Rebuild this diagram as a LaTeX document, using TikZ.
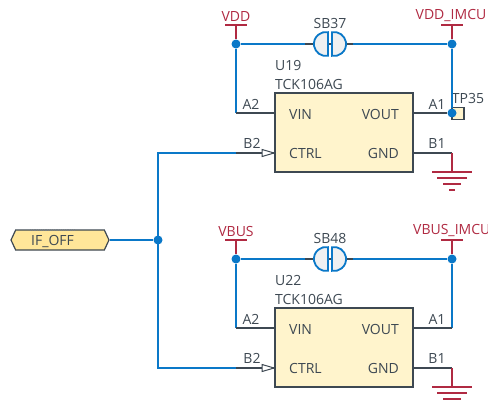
\documentclass[tikz,border=0pt]{standalone}
\usepackage{fontspec}
\setmainfont{Open Sans}
\usetikzlibrary{shapes.symbols}
\definecolor{netblue}{HTML}{0A78C8}
\definecolor{pindark}{HTML}{3D4852}
\definecolor{pwrred}{HTML}{B02A42}
\definecolor{icfill}{HTML}{FFF4CC}
\definecolor{portfill}{HTML}{FFE699}
\definecolor{capfill}{HTML}{EEF0F2}

\tikzset{
  wire/.style={draw=netblue,line width=1.8pt},
  pin/.style={draw=pindark,line width=1.8pt},
  pwr/.style={draw=pwrred,line width=1.8pt},
  dot/.style={circle,fill=netblue,inner sep=0pt,minimum size=9pt},
  ic/.style={rectangle,draw=pindark,line width=1.8pt,fill=icfill,inner sep=0pt,minimum width=138pt,minimum height=79pt},
  lbl/.style={inner sep=0pt,text=pindark,font=\fontsize{14}{16}\selectfont},
  pwrlbl/.style={inner sep=0pt,text=pwrred,font=\fontsize{14}{16}\selectfont},
  ctrltip/.style={draw=pindark,line width=1pt,fill=white},
  solder/.pic={
    \draw[draw=netblue,line width=1.8pt,fill=capfill] (-2,11.8) arc[start angle=80,end angle=280,radius=12] -- cycle;
    \draw[draw=netblue,line width=1.8pt,fill=capfill] (2,-11.8) arc[start angle=-100,end angle=100,radius=12] -- cycle;
  },
  earth/.pic={
    \draw[pwr] (-20,0) -- (20,0);
    \draw[pwr] (-15,6) -- (15,6);
    \draw[pwr] (-9,12) -- (9,12);
    \draw[pwr] (-3,18) -- (3,18);
  }
}

\begin{document}
\begin{tikzpicture}[x=1pt,y=-1pt]
  \useasboundingbox (0,0) rectangle (488,400);

  % input port
  \node (port)[draw=pindark,line width=1.2pt,fill=portfill,shape=signal,signal to=west and east,signal pointer angle=130,minimum width=98pt,minimum height=20pt,inner sep=0pt] at (60,240) {};
  \node (portlbl)[lbl] at (52.5,241) {IF\_OFF};
  \draw[pindark!70,line width=1.2pt,densely dotted] (30,230) -- (75,230);
  \node (jif)[dot] at (158,240) {};
  \coordinate (ctrlA) at (158,153);
  \coordinate (ctrlB) at (158,368);
  \coordinate (stubA) at (236,153);
  \coordinate (stubB) at (236,368);

  % upper regulator
  \node (u19)[ic] at (344,132.5) {};
  \node (u19ref)[lbl,anchor=west] at (275,65) {U19};
  \node (u19val)[lbl,anchor=west] at (275,84) {TCK106AG};
  \node (u19vin)[lbl,anchor=west] at (289,114) {VIN};
  \node (u19ctrl)[lbl,anchor=west] at (289,153) {CTRL};
  \node (u19vout)[lbl,anchor=east] at (399,114) {VOUT};
  \node (u19gnd)[lbl,anchor=east] at (399,153) {GND};
  \node (u19a2)[lbl] at (251,104) {A2};
  \node (u19b2)[lbl] at (252,143) {B2};
  \node (u19a1)[lbl] at (437,104) {A1};
  \node (u19b1)[lbl] at (437,143) {B1};

  \node (vdd)[pwrlbl] at (236,16) {VDD};
  \node (vddimcu)[pwrlbl] at (451,16) {VDD\_IMCU};
  \node (sb37lbl)[lbl] at (330,23) {SB37};
  \node (tp35lbl)[lbl] at (468,98) {TP35};
  \coordinate (vddbar) at (236,25);
  \coordinate (imcubar) at (452,25);
  \node (jvdd)[dot] at (236,44) {};
  \node (jimcu)[dot] at (452,44) {};
  \coordinate (sb37l) at (305,44);
  \coordinate (sb37r) at (353,44);
  \coordinate (u19cornerA) at (236,113);
  \coordinate (u19gndc) at (452,153);
  \coordinate (u19earth) at (452,172);
  \node (tp35)[draw=pindark,line width=1.8pt,fill=icfill,minimum size=12pt,inner sep=0pt] at (458,113.5) {};
  \node (jtp35)[dot] at (452,113) {};

  \draw[pwr] (vddbar) ++(-11,0) -- ++(22,0);
  \draw[pwr] (imcubar) ++(-11,0) -- ++(22,0);
  \draw[pwr] (vddbar) -- (jvdd);
  \draw[pwr] (imcubar) -- (jimcu);
  \draw[wire] (jvdd) -- (sb37l);
  \draw[wire] (sb37r) -- (jimcu);
  \draw[pin] (sb37l) -- (sb37r);
  \pic at (330,44) {solder};
  \draw[wire] (jvdd) -- (u19cornerA);
  \draw[wire] (jimcu) -- (jtp35);
  \draw[pin] (u19cornerA) -- (u19.west |- u19cornerA);
  \draw[pin] (jtp35) -- (u19.east |- jtp35);
  \draw[pin] (u19.east |- u19gndc) -- (u19gndc);
  \draw[pwr] (u19gndc) -- (u19earth);
  \pic at (u19earth) {earth};

  % lower regulator
  \node (u22)[ic] at (344,347.5) {};
  \node (u22ref)[lbl,anchor=west] at (275,280) {U22};
  \node (u22val)[lbl,anchor=west] at (275,299) {TCK106AG};
  \node (u22vin)[lbl,anchor=west] at (289,329) {VIN};
  \node (u22ctrl)[lbl,anchor=west] at (289,368) {CTRL};
  \node (u22vout)[lbl,anchor=east] at (399,329) {VOUT};
  \node (u22gnd)[lbl,anchor=east] at (399,368) {GND};
  \node (u22a2)[lbl] at (251,319) {A2};
  \node (u22b2)[lbl] at (252,358) {B2};
  \node (u22a1)[lbl] at (437,319) {A1};
  \node (u22b1)[lbl] at (437,358) {B1};

  \node (vbus)[pwrlbl] at (236,231) {VBUS};
  \node (vbusimcu)[pwrlbl,anchor=west] at (413,231) {VBUS\_IMCU};
  \node (sb48lbl)[lbl] at (330,238) {SB48};
  \coordinate (vbusbar) at (236,240);
  \coordinate (imcubarB) at (452,240);
  \node (jvbus)[dot] at (236,259) {};
  \node (jimcuB)[dot] at (452,259) {};
  \coordinate (sb48l) at (305,259);
  \coordinate (sb48r) at (353,259);
  \coordinate (u22cornerA) at (236,328);
  \coordinate (u22cornerB) at (452,328);
  \coordinate (u22gndc) at (452,368);
  \coordinate (u22earth) at (452,387);

  \draw[pwr] (vbusbar) ++(-11,0) -- ++(22,0);
  \draw[pwr] (imcubarB) ++(-11,0) -- ++(22,0);
  \draw[pwr] (vbusbar) -- (jvbus);
  \draw[pwr] (imcubarB) -- (jimcuB);
  \draw[wire] (jvbus) -- (sb48l);
  \draw[wire] (sb48r) -- (jimcuB);
  \draw[pin] (sb48l) -- (sb48r);
  \pic at (330,259) {solder};
  \draw[wire] (jvbus) -- (u22cornerA);
  \draw[wire] (jimcuB) -- (u22cornerB);
  \draw[pin] (u22cornerA) -- (u22.west |- u22cornerA);
  \draw[pin] (u22cornerB) -- (u22.east |- u22cornerB);
  \draw[pin] (u22.east |- u22gndc) -- (u22gndc);
  \draw[pwr] (u22gndc) -- (u22earth);
  \pic at (u22earth) {earth};

  % control net
  \draw[wire] (port.east) -- (jif);
  \draw[wire] (stubA) -- (ctrlA) -- (ctrlB) -- (stubB);
  \draw[pin] (stubA) -- (u19.west |- stubA);
  \draw[pin] (stubB) -- (u22.west |- stubB);
  \draw[ctrltip] (u19.west |- stubA) -- ++(-12,-3.5) -- ++(0,7) -- cycle;
  \draw[ctrltip] (u22.west |- stubB) -- ++(-12,-3.5) -- ++(0,7) -- cycle;
\end{tikzpicture}
\end{document}
